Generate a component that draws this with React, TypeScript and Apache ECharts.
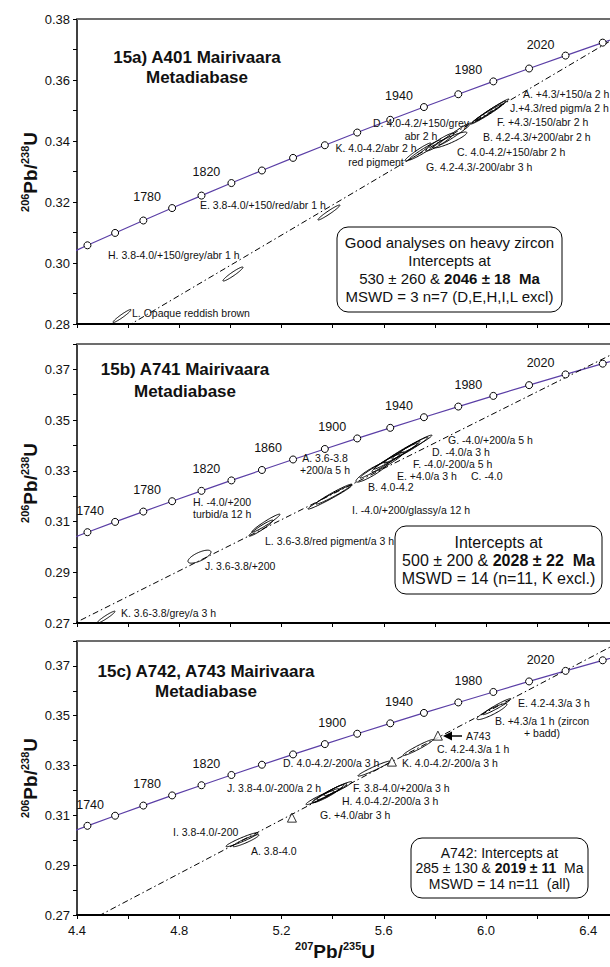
import React, { useEffect, useRef } from "react";
import * as echarts from "echarts";

// ---------- data ----------
// Concordia marker ages (Ma) and their ratios
const concordiaAge = [1700, 1720, 1740, 1760, 1780, 1800, 1820, 1840, 1860, 1880, 1900, 1920, 1940, 1960, 1980, 2000, 2020, 2040, 2060];
const concordiaX = [4.33477, 4.44089, 4.54912, 4.65951, 4.77209, 4.88691, 5.00402, 5.12344, 5.24525, 5.36947, 5.49617, 5.62538, 5.75717, 5.89157, 6.02867, 6.16846, 6.31105, 6.45649, 6.6048];
const concordiaY = [0.30175, 0.3058, 0.30986, 0.31393, 0.31801, 0.3221, 0.32621, 0.33033, 0.33447, 0.33861, 0.34277, 0.34695, 0.35113, 0.35533, 0.35954, 0.36377, 0.368, 0.37225, 0.37652];

const labeledAgesA = [1780, 1820, 1940, 1980, 2020];
const labeledAgesB = [1740, 1780, 1820, 1860, 1900, 1940, 1980, 2020];
const labeledAgesC = [1740, 1780, 1820, 1900, 1940, 1980, 2020];

// Discordia lines: lower intercept -> point beyond upper intercept
const discordiaA = [[0.68534, 0.08569], [6.5011, 0.37353]];
const discordiaB = [[0.63627, 0.08065], [6.6, 0.38133]];
const discordiaC = [[0.32403, 0.045203], [6.6, 0.38374]];

// Error ellipses: [207/235, 2s, 206/238, 2s, rho]
const ellipsesA = [
  [4.576, 0.0352, 0.28262, 0.00213, 0.958], // L
  [5.0101, 0.0391, 0.29639, 0.0023, 0.95], // H
  [5.3855, 0.043, 0.31656, 0.00246, 0.966], // E
  [5.7336, 0.0508, 0.33639, 0.00295, 0.963], // K
  [5.761, 0.0626, 0.33705, 0.00328, 0.972], // G
  [5.8196, 0.0548, 0.33967, 0.00295, 0.944], // C
  [5.8587, 0.0665, 0.34033, 0.00262, 0.91], // B
  [5.8783, 0.0626, 0.3423, 0.00361, 0.975], // D
  [6.023, 0.0665, 0.35016, 0.00361, 0.987], // A
  [6.0113, 0.0665, 0.34951, 0.00361, 0.987], // J
  [6.0035, 0.0626, 0.34885, 0.00328, 0.984], // F
];
const ellipsesB = [
  [4.5134, 0.0352, 0.27229, 0.00237, 0.954], // K
  [4.8791, 0.045, 0.29615, 0.00256, 0.708], // J
  [5.1391, 0.0548, 0.30937, 0.00355, 0.965], // L
  [5.1196, 0.0469, 0.3074, 0.00316, 0.954], // L
  [5.3894, 0.086, 0.31963, 0.00473, 0.982], // I
  [5.4051, 0.0704, 0.32081, 0.00394, 0.973], // H
  [5.5537, 0.0626, 0.32949, 0.00394, 0.91], // B
  [5.585, 0.0782, 0.33185, 0.00473, 0.981], // A
  [5.6163, 0.0626, 0.33345, 0.00394, 0.955], // E
  [5.6476, 0.086, 0.3358, 0.00513, 0.984], // F
  [5.671, 0.0704, 0.33738, 0.00434, 0.977], // C
  [5.7023, 0.0704, 0.33895, 0.00434, 0.977], // D
  [5.7258, 0.0626, 0.34053, 0.00355, 0.973], // G
];
const ellipsesC = [
  [5.0453, 0.0626, 0.30024, 0.00281, 0.95], // I
  [5.0609, 0.0508, 0.29984, 0.00241, 0.93], // A
  [5.5615, 0.0626, 0.32876, 0.00301, 0.964], // K
  [5.7336, 0.0587, 0.33719, 0.00321, 0.967], // C
  [6.0426, 0.0548, 0.35365, 0.00321, 0.966], // E
  [6.023, 0.0587, 0.35165, 0.00321, 0.905], // B
  [5.4207, 0.0548, 0.32072, 0.00281, 0.948], // F
  [5.3816, 0.0626, 0.31871, 0.00361, 0.967], // H
  [5.3503, 0.0548, 0.31711, 0.00281, 0.95], // G
  [5.3738, 0.0508, 0.31791, 0.00281, 0.946], // J
  [5.3973, 0.0587, 0.31952, 0.00321, 0.959], // D
];
// A743 fractions (triangles)
const a743X = [5.2408, 5.6319, 5.8118];
const a743Y = [0.30908, 0.33157, 0.34201];

const xTicks = { min: 4.4, max: 6.485, interval: 0.2 };
const yRanges = [
  { min: 0.28, max: 0.38, parity: 0 },
  { min: 0.27, max: 0.38, parity: 1 },
  { min: 0.27, max: 0.38, parity: 1 },
];

// ---------- layout ----------
const FONT = '"Liberation Sans", Arial, Helvetica, sans-serif';
const grids = [
  { left: 77, right: 0, top: 19, height: 305 },
  { left: 77, right: 0, top: 344, height: 279 },
  { left: 77, right: 0, top: 641, height: 274 },
];
const PURPLE = "#5b3fa6";

function renderEllipse(params: any, api: any) {
  const x = api.value(0), sx = api.value(1), y = api.value(2), sy = api.value(3), rho = api.value(4);
  const s = Math.sqrt(1 - rho * rho);
  const pts: number[][] = [];
  for (let i = 0; i < 72; i++) {
    const t = (i / 72) * Math.PI * 2;
    pts.push(api.coord([x + sx * Math.cos(t), y + sy * (rho * Math.cos(t) + s * Math.sin(t))]));
  }
  return { type: "polygon", shape: { points: pts }, style: { fill: "none", stroke: "#000", lineWidth: 1 } };
}

function ann(text: string, x: number, y: number, align = "left", lineHeight = 12) {
  return {
    type: "text", x, y, z: 10,
    style: { text, fontSize: 10.5, fontFamily: FONT, fill: "#111", align, verticalAlign: "middle", lineHeight },
  };
}

function title(text: string, x: number, y: number, lineHeight: number) {
  return {
    type: "text", x, y, z: 10,
    style: { text, fontSize: 17, fontWeight: "bold", fontFamily: FONT, fill: "#111", align: "center", verticalAlign: "middle", lineHeight },
  };
}

function ratioLabel(a: string, b: string, c: string, x: number, y: number, vertical: boolean) {
  return {
    type: "text", x, y, z: 10, rotation: vertical ? Math.PI / 2 : 0,
    style: {
      text: `{s|${a}}{m|Pb/}{s|${b}}{m|${c}}`,
      align: "center", verticalAlign: "middle", fill: "#111",
      rich: {
        s: { fontSize: 11, fontWeight: "bold", fontFamily: FONT, verticalAlign: "top", fill: "#111" },
        m: { fontSize: 19, fontWeight: "bold", fontFamily: FONT, lineHeight: 22, fill: "#111" },
      },
    },
  };
}

function box(x: number, y: number, w: number, h: number, text: string, fs: number, lh: number) {
  return [
    { type: "rect", z: 9, shape: { x, y, width: w, height: h, r: 11 }, style: { fill: "#fff", stroke: "#000", lineWidth: 1 } },
    {
      type: "text", x: x + w / 2, y: y + h / 2, z: 10,
      style: {
        text, align: "center", verticalAlign: "middle", fill: "#111",
        rich: {
          n: { fontSize: fs, fontFamily: FONT, lineHeight: lh, fill: "#111" },
          b: { fontSize: fs, fontFamily: FONT, fontWeight: "bold", lineHeight: lh, fill: "#111" },
        },
      },
    },
  ];
}

export default function App() {
  const ref = useRef<HTMLDivElement>(null);
  useEffect(() => {
    if (!ref.current) return;
    const chart = echarts.init(ref.current, undefined, { renderer: "svg" });

    const xAxis: any[] = [];
    const yAxis: any[] = [];
    const series: any[] = [];
    const labeled = [labeledAgesA, labeledAgesB, labeledAgesC];
    const disc = [discordiaA, discordiaB, discordiaC];
    const ells = [ellipsesA, ellipsesB, ellipsesC];

    grids.forEach((_, g) => {
      xAxis.push({
        type: "value", gridIndex: g, position: "bottom", min: xTicks.min, max: xTicks.max, interval: xTicks.interval,
        axisLine: { show: true, onZero: false, lineStyle: { color: "#000", width: 2 } },
        axisTick: { show: true, length: 4, lineStyle: { color: "#000", width: 1 } },
        splitLine: { show: false },
        axisLabel: {
          show: g === 2, showMaxLabel: false, margin: 9, fontSize: 13, fontFamily: FONT, color: "#111",
          formatter: (v: number) => (Math.round(v * 10) % 4 === 0 ? v.toFixed(1) : ""),
        },
      });
      xAxis.push({
        type: "value", gridIndex: g, position: "top", min: xTicks.min, max: xTicks.max,
        axisLine: { show: true, onZero: false, lineStyle: { color: "#6d6d6d", width: 2 } },
        axisTick: { show: false }, axisLabel: { show: false }, splitLine: { show: false },
      });
      const yr = yRanges[g];
      yAxis.push({
        type: "value", gridIndex: g, min: yr.min, max: yr.max, interval: 0.01,
        axisLine: { show: true, onZero: false, lineStyle: { color: "#000", width: 1.5 } },
        axisTick: { show: true, length: 4, lineStyle: { color: "#000" } },
        splitLine: { show: false },
        axisLabel: {
          margin: 7, fontSize: 13, fontFamily: FONT, color: "#111",
          formatter: (v: number) => (Math.round(v * 100) % 2 === yr.parity && Math.round(v * 100) <= 37 + (yr.parity ? 0 : 1) ? v.toFixed(2) : ""),
        },
      });

      const xi = g * 2;
      series.push({
        type: "line", xAxisIndex: xi, yAxisIndex: g, symbol: "none", clip: true, z: 2,
        lineStyle: { color: PURPLE, width: 1.2 },
        data: concordiaX.map((x, i) => [x, concordiaY[i]]),
      });
      series.push({
        type: "line", xAxisIndex: xi, yAxisIndex: g, symbol: "none", clip: true, z: 2,
        lineStyle: { color: "#000", width: 1, type: [6, 3, 1.5, 3] },
        data: disc[g],
      });
      series.push({
        type: "custom", xAxisIndex: xi, yAxisIndex: g, clip: true, z: 3,
        renderItem: renderEllipse,
        encode: { x: 0, y: 2 },
        data: ells[g],
      });
      series.push({
        type: "scatter", xAxisIndex: xi, yAxisIndex: g, clip: true, z: 4,
        symbol: "circle", symbolSize: 7,
        itemStyle: { color: "#fff", borderColor: "#000", borderWidth: 1, opacity: 1 },
        label: {
          show: false, position: "inside", offset: [-25, -11], fontSize: 12.5, fontFamily: FONT, color: "#111",
          formatter: (p: any) => String(p.value[2]),
        },
        data: concordiaX.map((x, i) => ({
          value: [x, concordiaY[i], concordiaAge[i]],
          label: { show: labeled[g].indexOf(concordiaAge[i]) >= 0 },
        })),
      });
    });

    series.push({
      type: "scatter", xAxisIndex: 4, yAxisIndex: 2, clip: true, z: 5,
      symbol: "triangle", symbolSize: 9,
      itemStyle: { color: "#fff", borderColor: "#000", borderWidth: 1 },
      data: a743X.map((x, i) => [x, a743Y[i]]),
    });

    const graphic: any[] = [
      title("15a) A401 Mairivaara\nMetadiabase", 197, 67, 20),
      title("15b) A741 Mairivaara\nMetadiabase", 185, 380, 22),
      title("15c) A742, A743 Mairivaara\nMetadiabase", 206, 681.5, 19.5),
      ratioLabel("206", "238", "U", 30, 172, true),
      ratioLabel("206", "238", "U", 30, 483, true),
      ratioLabel("206", "238", "U", 30, 778, true),
      ratioLabel("207", "235", "U", 335, 951, false),
      // panel a annotations
      ann("A. +4.3/+150/a 2 h", 523, 94),
      ann("J.+4.3/red pigm/a 2 h", 510, 108),
      ann("F. +4.3/-150/abr 2 h", 497, 122),
      ann("B. 4.2-4.3/+200/abr 2 h", 483, 137),
      ann("C. 4.0-4.2/+150/abr 2 h", 457, 152),
      ann("G. 4.2-4.3/-200/abr 3 h", 426, 167),
      ann("D. 4.0-4.2/+150/grey\nabr 2 h", 421, 129.5, "center", 13),
      ann("K. 4.0-4.2/abr 2 h\nred pigment", 376, 155, "center", 14),
      ann("E. 3.8-4.0/+150/red/abr 1 h", 200, 205),
      ann("H. 3.8-4.0/+150/grey/abr 1 h", 108, 255),
      ann("L. Opaque reddish brown", 132, 313),
      // panel b annotations
      ann("G. -4.0/+200/a 5 h", 448, 439.5),
      ann("D. -4.0/a 3 h", 432, 451.5),
      ann("F. -4.0/-200/a 5 h", 413, 463.5),
      ann("A. 3.6-3.8\n+200/a 5 h", 325, 464, "center", 12),
      ann("E. +4.0/a 3 h", 397, 475.5),
      ann("C. -4.0", 471, 475.5),
      ann("B. 4.0-4.2", 368, 487),
      ann("I. -4.0/+200/glassy/a 12 h", 352, 510),
      ann("L. 3.6-3.8/red pigment/a 3 h", 265, 541),
      ann("H. -4.0/+200\nturbid/a 12 h", 193, 508, "left", 12),
      ann("J. 3.6-3.8/+200", 205, 566),
      ann("K. 3.6-3.8/grey/a 3 h", 121, 613),
      // panel c annotations
      ann("D. 4.0-4.2/-200/a 3 h", 283, 763),
      ann("J. 3.8-4.0/-200/a 2 h", 227, 788),
      ann("I. 3.8-4.0/-200", 173, 832),
      ann("A. 3.8-4.0", 251, 851),
      ann("E. 4.2-4.3/a 3 h", 518, 703),
      ann("B. +4.3/a 1 h (zircon\n+ badd)", 542, 727, "center", 12),
      ann("A743", 466, 736),
      ann("C. 4.2-4.3/a 1 h", 437, 749),
      ann("K. 4.0-4.2/-200/a 3 h", 402, 763),
      ann("F. 3.8-4.0/+200/a 3 h", 353, 788),
      ann("H. 4.0-4.2/-200/a 3 h", 342, 801),
      ann("G. +4.0/abr 3 h", 320, 815),
      { type: "line", z: 10, shape: { x1: 462, y1: 736, x2: 450, y2: 736 }, style: { stroke: "#000", lineWidth: 1.5 } },
      { type: "polygon", z: 10, shape: { points: [[443, 736], [452, 731.5], [452, 740.5]] }, style: { fill: "#000" } },
      ...box(337, 227, 225, 85,
        "{n|Good analyses on heavy zircon}\n{n|Intercepts at}\n{n|530 ± 260 & }{b|2046 ± 18  Ma}\n{n|MSWD = 3 n=7 (D,E,H,I,L excl)}", 15, 18.3),
      ...box(395, 526, 207, 68,
        "{n|Intercepts at}\n{n|500 ± 200 & }{b|2028 ± 22  Ma}\n{n|MSWD = 14 (n=11, K excl.)}", 16, 18),
      ...box(411, 838, 177, 60,
        "{n|A742: Intercepts at}\n{n|285 ± 130 & }{b|2019 ± 11}{n|  Ma}\n{n|MSWD = 14 n=11  (all)}", 14, 15.5),
    ];

    chart.setOption({
      animation: false,
      backgroundColor: "#fff",
      textStyle: { fontFamily: FONT },
      grid: grids,
      xAxis,
      yAxis,
      series,
      graphic,
    });
    return () => chart.dispose();
  }, []);

  return <div ref={ref} style={{ position: "absolute", left: 0, top: 0, width: 610, height: 967, background: "#fff" }} />;
}
